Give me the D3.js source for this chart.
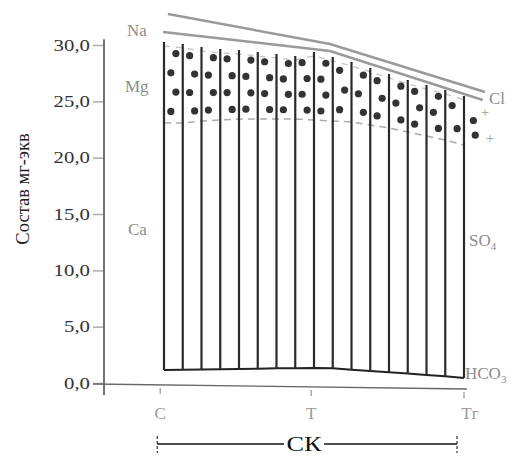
<!DOCTYPE html>
<html><head><meta charset="utf-8">
<script src="https://cdn.jsdelivr.net/npm/d3@7"></script>
<style>
html,body{margin:0;padding:0;background:#fff;}
svg{display:block;}
text{font-family:"Liberation Serif","Times New Roman",serif;}
</style></head>
<body>
<script>
// ---- data ----
const yTicks = [0, 5, 10, 15, 20, 25, 30];
const xTickLabels = ["С", "Т", "Тг"];
const xTickPos = [-0.2, 7.85, 16.0];
// column boundaries (17 lines, index 0..16)
const lineIdx = d3.range(17);
const hco3Top = [1.15, 1.17, 1.2, 1.22, 1.25, 1.27, 1.3, 1.32, 1.33, 1.3, 1.18, 1.06, 0.95, 0.84, 0.72, 0.6, 0.45];
const caMgBoundary = [23.08, 23.08, 23.25, 23.34, 23.43, 23.43, 23.43, 23.43, 23.34, 23.25, 23.17, 22.9, 22.63, 22.28, 21.92, 21.57, 21.12];
const columnTop = [30.27, 30.09, 29.82, 29.64, 29.55, 29.38, 29.2, 29.02, 29.38, 28.93, 28.49, 27.96, 27.43, 26.9, 26.45, 26.01, 25.48];
const dotsPerColumn = [4, 4, 4, 4, 4, 4, 4, 4, 4, 3, 3, 3, 3, 3, 3, 2];
const naLineX = [0.21, 8.85, 17.12];
const naLineY = [32.75, 30.09, 25.83];
const clLineX = [-0.05, 8.85, 17.0];
const clLineY = [31.15, 29.47, 25.12];
const extraDots = [[16.5, 23.3], [16.6, 22.0]];
const crosses = [[17.12, 24.05], [17.39, 21.74]];
const yLabel = "Состав мг-экв";
const spanLabel = "СК";

// ---- drawing ----
const W = 526, H = 457;
const svg = d3.select("body").append("svg").attr("width", W).attr("height", H);
svg.append("rect").attr("width", W).attr("height", H).attr("fill", "#fff");

const x = d3.scaleLinear().domain([0, 16]).range([164, 464]);
const y = d3.scaleLinear().domain([0, 30]).range([383, 45]);
const gray = "#8c8c8c";

// y axis
const yAxis = d3.axisLeft(y).tickValues(yTicks)
  .tickFormat(d => d3.format(".1f")(d).replace(".", ","))
  .tickSize(10).tickSizeOuter(0).tickPadding(3);
const gy = svg.append("g").attr("transform", "translate(103,0)").call(yAxis);
gy.select(".domain").remove();
gy.selectAll(".tick line").attr("stroke", "#aaa").attr("stroke-width", 1.5);
gy.selectAll(".tick text").attr("font-size", 16).attr("fill", "#333")
  .attr("font-family", "Liberation Serif, serif")
  .attr("x", -13 / 1.3).attr("transform", "scale(1.3,1)");
svg.append("line").attr("x1", 104).attr("x2", 104).attr("y1", y(30.5)).attr("y2", 395)
  .attr("stroke", "#444").attr("stroke-width", 1.5);

// x axis (slightly tilted like the scan)
const axY = xi => 384 + (x(xi) - 93) / (467 - 93) * 5;
svg.append("line").attr("x1", 93).attr("y1", 384).attr("x2", 467).attr("y2", 389)
  .attr("stroke", "#666").attr("stroke-width", 1.3);
xTickPos.forEach((p, i) => {
  svg.append("line").attr("x1", x(p)).attr("x2", x(p)).attr("y1", axY(p) + 3).attr("y2", axY(p) + 9)
    .attr("stroke", "#aaa").attr("stroke-width", 1.5);
  svg.append("text").attr("x", x(p) + (i === 2 ? 6 : 0)).attr("y", 419).attr("text-anchor", "middle")
    .attr("font-size", 17).attr("fill", "#999").text(xTickLabels[i]);
});

// span CK
const sx0 = x(xTickPos[0]) - 3, sx1 = x(xTickPos[2]) - 7;
svg.append("line").attr("x1", sx0).attr("x2", 284).attr("y1", 444).attr("y2", 444).attr("stroke", "#111").attr("stroke-width", 1.6);
svg.append("line").attr("x1", 324).attr("x2", sx1).attr("y1", 444).attr("y2", 444).attr("stroke", "#111").attr("stroke-width", 1.6);
[sx0, sx1].forEach(v => svg.append("line").attr("x1", v).attr("x2", v).attr("y1", 436).attr("y2", 453)
  .attr("stroke", "#333").attr("stroke-width", 1.2).attr("stroke-dasharray", "3,2"));
svg.append("text").attr("transform", "translate(304,451) scale(1.25,1)").attr("text-anchor", "middle")
  .attr("font-size", 21).attr("fill", "#111").text(spanLabel);

// y label
svg.append("text").attr("transform", "translate(29,189) rotate(-90)").attr("text-anchor", "middle")
  .attr("font-size", 18.5).attr("fill", "#222").text(yLabel);

// Na / Cl gray lines
const lineGen = d3.line().x(d => x(d[0])).y(d => y(d[1]));
svg.append("path").attr("d", lineGen(naLineX.map((v, i) => [v, naLineY[i]])))
  .attr("fill", "none").attr("stroke", "#9a9a9a").attr("stroke-width", 2.5);
svg.append("path").attr("d", lineGen(clLineX.map((v, i) => [v, clLineY[i]])))
  .attr("fill", "none").attr("stroke", "#9a9a9a").attr("stroke-width", 2.5);

// dashed boundaries
svg.append("path").attr("d", lineGen(lineIdx.map(i => [i, caMgBoundary[i]])))
  .attr("fill", "none").attr("stroke", "#aaa").attr("stroke-width", 1.5).attr("stroke-dasharray", "7,5");
svg.append("path").attr("d", lineGen(lineIdx.map(i => [i, columnTop[i] - 0.35])))
  .attr("fill", "none").attr("stroke", "#c4c4c4").attr("stroke-width", 1.3).attr("stroke-dasharray", "6,6");

// dots in Mg zone
dotsPerColumn.forEach((n, c) => {
  const top = (columnTop[c] + columnTop[c + 1]) / 2;
  const bot = (caMgBoundary[c] + caMgBoundary[c + 1]) / 2;
  for (let r = 0; r < n; r++) {
    const f = (r + 0.55) / (n + 0.15);
    const v = top - (top - bot) * f;
    const off = ((r + c) % 2 ? -2.5 : 2.5);
    svg.append("circle").attr("cx", x(c + 0.5) + off).attr("cy", y(v)).attr("r", 3.6).attr("fill", "#333");
  }
});
extraDots.forEach(d => svg.append("circle").attr("cx", x(d[0])).attr("cy", y(d[1])).attr("r", 3.6).attr("fill", "#333"));
crosses.forEach(d => svg.append("text").attr("x", x(d[0])).attr("y", y(d[1]) + 5).attr("text-anchor", "middle")
  .attr("font-size", 15).attr("fill", "#999").text("+"));

// bottom HCO3 line and verticals
svg.append("path").attr("d", lineGen(lineIdx.map(i => [i, hco3Top[i]])))
  .attr("fill", "none").attr("stroke", "#222").attr("stroke-width", 2);
lineIdx.forEach(i => {
  svg.append("line").attr("x1", x(i)).attr("x2", x(i)).attr("y1", y(hco3Top[i])).attr("y2", y(columnTop[i]))
    .attr("stroke", "#2a2a2a").attr("stroke-width", 2.2);
});

// ion labels
const lab = (t, px, py, sub) => {
  const tx = svg.append("text").attr("x", px).attr("y", py).attr("font-size", 17).attr("fill", gray).text(t);
  if (sub) tx.append("tspan").attr("font-size", 11).attr("dy", 4).text(sub);
};
lab("Na", 127, 36);
lab("Mg", 125, 92);
lab("Ca", 128, 235);
lab("Cl", 489, 104);
lab("SO", 469, 246, "4");
lab("HCO", 465, 379, "3");
</script>
</body></html>
